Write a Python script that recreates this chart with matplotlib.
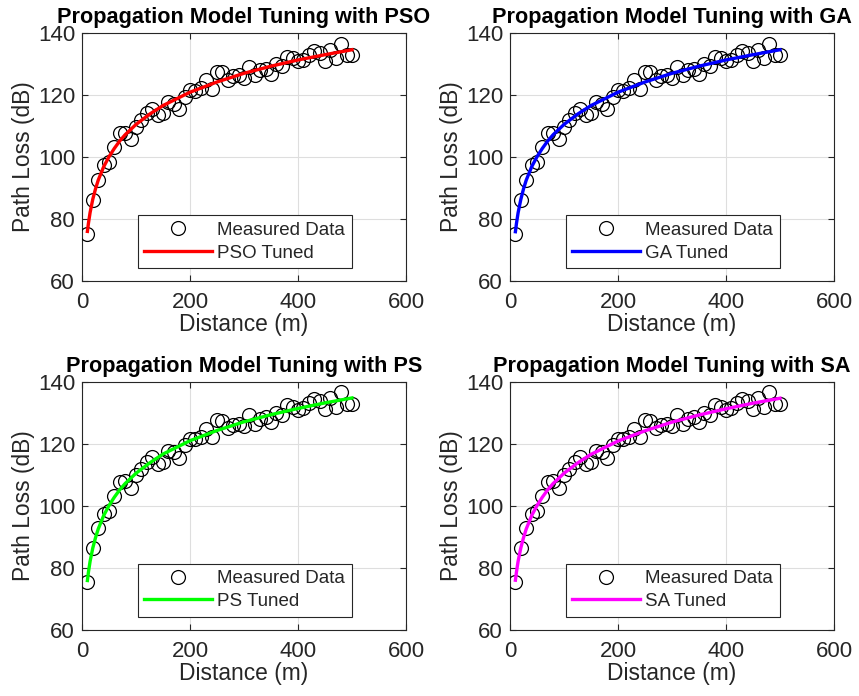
import numpy as np
import matplotlib
matplotlib.use('Agg')
import matplotlib.pyplot as plt

plt.rcParams['font.family'] = ['Liberation Sans', 'DejaVu Sans']

distance = [10, 20, 30, 40, 50, 60, 70, 80, 90, 100,
            110, 120, 130, 140, 150, 160, 170, 180, 190, 200,
            210, 220, 230, 240, 250, 260, 270, 280, 290, 300,
            310, 320, 330, 340, 350, 360, 370, 380, 390, 400,
            410, 420, 430, 440, 450, 460, 470, 480, 490, 500]
path_loss = [75.3, 86.2, 92.6, 97.4, 98.3, 103.1, 107.7, 107.9, 105.7, 109.8,
             111.9, 114.1, 115.5, 113.5, 114.1, 117.6, 117.1, 115.4, 119.4, 121.5,
             121.3, 122.1, 124.8, 122.0, 127.5, 127.3, 125.0, 126.1, 126.4, 125.6,
             129.1, 126.3, 128.0, 128.5, 126.9, 129.9, 129.3, 132.3, 131.8, 130.9,
             131.4, 133.0, 134.2, 133.6, 131.0, 134.6, 131.8, 136.6, 132.8, 132.8]

# ---- tuned model curves ----
curve_d = [10, 12, 15, 20, 25, 30, 40, 50, 60, 70, 80, 100, 125, 150,
           200, 250, 300, 350, 400, 450, 500]
pso_curve = [76.0, 78.7, 82.1, 86.4, 89.7, 92.5, 96.8, 100.1, 102.8, 105.2, 107.2,
             110.5, 113.8, 116.6, 120.9, 124.2, 127.0, 129.3, 131.3, 133.0, 134.6]
ga_curve = [75.9, 78.6, 82.0, 86.3, 89.7, 92.5, 96.8, 100.1, 102.8, 105.2, 107.2,
            110.5, 113.8, 116.6, 120.9, 124.2, 127.0, 129.3, 131.3, 133.0, 134.6]
ps_curve = [75.8, 78.6, 82.0, 86.3, 89.6, 92.4, 96.7, 100.0, 102.7, 105.1, 107.1,
            110.4, 113.7, 116.6, 120.9, 124.2, 127.0, 129.3, 131.3, 133.1, 134.7]
sa_curve = [75.9, 78.6, 82.0, 86.3, 89.6, 92.4, 96.7, 100.0, 102.7, 105.1, 107.1,
            110.4, 113.7, 116.5, 120.8, 124.1, 126.9, 129.2, 131.2, 133.0, 134.6]

methods = ['PSO', 'GA', 'PS', 'SA']
curves = [pso_curve, ga_curve, ps_curve, sa_curve]
colors = ['#ff0000', '#0000ff', '#00ff00', '#ff00ff']

txt = '#262626'

fig = plt.figure(figsize=(8.59, 6.96), dpi=100)
W, H = 859, 696
boxes = [(82, 33), (510, 33), (82, 381.5), (510, 381.5)]  # left, top in px
aw, ah = 324, 248

for k in range(4):
    l, t = boxes[k]
    ax = fig.add_axes([l / W, 1 - (t + ah) / H, aw / W, ah / H])
    ax.plot(distance, path_loss, 'o', mfc='none', mec='black', ms=10, mew=0.9,
            label='Measured Data', zorder=3)
    ax.plot(curve_d, curves[k], '-', color=colors[k], lw=2.4,
            label=methods[k] + ' Tuned', zorder=4)
    ax.set_xlim(0, 600)
    ax.set_ylim(60, 140)
    ax.set_xticks([0, 200, 400, 600])
    ax.set_yticks([60, 80, 100, 120, 140])
    ax.grid(True, color='#dedede', lw=0.8)
    ax.set_axisbelow(True)
    ax.tick_params(direction='in', length=4, width=0.8, top=True, right=True,
                   labelsize=16, colors=txt)
    ax.tick_params(axis='x', pad=8)
    ax.tick_params(axis='y', pad=5)
    for s in ax.spines.values():
        s.set_color(txt)
        s.set_linewidth(0.8)
    ax.set_xlabel('Distance (m)', fontsize=16.4, color=txt, labelpad=0)
    ax.set_ylabel('Path Loss (dB)', fontsize=16.4, color=txt, labelpad=2)
    ax.set_title('Propagation Model Tuning with ' + methods[k], fontsize=15.6,
                 fontweight='bold', color='black', pad=7)
    leg = ax.legend(loc='lower right', bbox_to_anchor=(0.833, 0.052), borderaxespad=0,
                    fontsize=13.5, numpoints=1, handlelength=3.6, handletextpad=0.3,
                    labelspacing=0.3, borderpad=0.35, fancybox=False, framealpha=1,
                    edgecolor=txt)
    leg.get_frame().set_linewidth(0.8)
    for t_ in leg.get_texts():
        t_.set_color(txt)

plt.savefig('out.png', dpi=100)
